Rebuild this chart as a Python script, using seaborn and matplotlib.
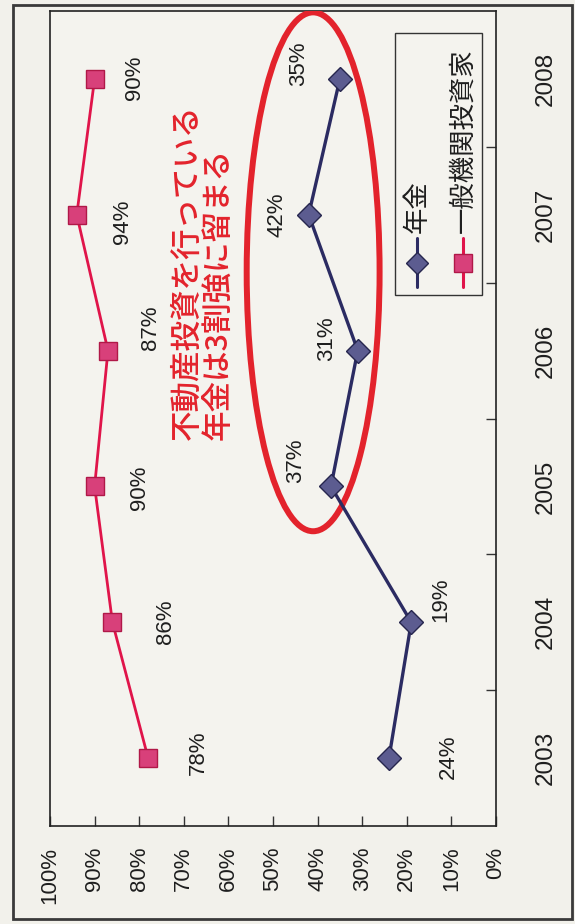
import matplotlib
matplotlib.use("Agg")
import matplotlib.pyplot as plt
import seaborn as sns
import pandas as pd
from matplotlib.patches import Ellipse, Rectangle
from matplotlib.lines import Line2D

# ---- data ----
years = ["2003", "2004", "2005", "2006", "2007", "2008"]
pension = [24, 19, 37, 31, 42, 35]            # 年金
institutional = [78, 86, 90, 87, 94, 90]      # 一般機関投資家
series_names = ["年金", "一般機関投資家"]
pct_ticks = [0, 10, 20, 30, 40, 50, 60, 70, 80, 90, 100]
pct_labels = [f"{v}%" for v in pct_ticks]
note_text = "不動産投資を行っている\n年金は3割強に留まる"

# ---- style ----
sns.set_theme(style="white")
plt.rcParams["font.family"] = ["Liberation Sans", "DejaVu Sans"]
CJK = ["Noto Sans CJK JP", "DejaVu Sans"]

BG = "#f2f1eb"
NAVY = "#2b2b62"
NAVY_FILL = "#5c5c90"
CRIMSON = "#e0144a"
PINK_FILL = "#d8407a"
RED = "#e3232c"
INK = "#1e1e1e"

pos = list(range(len(years)))
df = pd.DataFrame({
    "pos": pos * 2,
    "value": pension + institutional,
    "series": [series_names[0]] * len(years) + [series_names[1]] * len(years),
})

fig = plt.figure(figsize=(5.75, 9.24), dpi=100)
fig.set_facecolor(BG)
ax = fig.add_axes([50 / 575, 98 / 924, 446 / 575, 815 / 924])
ax.set_facecolor("#f4f3ee")

# pension series: dark navy with diamonds
sns.lineplot(data=df[df["series"] == series_names[0]], x="value", y="pos",
             orient="y", ax=ax, color=NAVY, lw=2.4, marker="D", markersize=12,
             markerfacecolor=NAVY_FILL, markeredgecolor="#26264e",
             markeredgewidth=1.0, zorder=4, legend=False)
# institutional series: crimson with squares
sns.lineplot(data=df[df["series"] == series_names[1]], x="value", y="pos",
             orient="y", ax=ax, color=CRIMSON, lw=2.0, marker="s", markersize=13.5,
             markerfacecolor=PINK_FILL, markeredgecolor="#b01848",
             markeredgewidth=1.0, zorder=4, legend=False)

# axes: percent runs right-to-left along the bottom, years up the right side
ax.set_xlim(100, 0)
ax.set_ylim(-0.5, len(years) - 0.5)
ax.set_xlabel("")
ax.set_ylabel("")
ax.set_xticks(pct_ticks)
ax.set_xticklabels(pct_labels, rotation=90)
ax.tick_params(axis="x", direction="in", length=7, width=1, pad=15,
               labelsize=16, labelcolor=INK, bottom=True, color="#333333")

ax.yaxis.tick_right()
ax.set_yticks(pos)
ax.set_yticklabels(years, rotation=90, va="center")
ax.set_yticks([p + 0.5 for p in pos[:-1]], minor=True)
ax.tick_params(axis="y", which="major", length=0, pad=28, labelsize=17.5,
               labelcolor=INK)
ax.tick_params(axis="y", which="minor", direction="in", length=7, width=1,
               right=True, left=False, color="#333333")
for s in ax.spines.values():
    s.set_color("#222222")
    s.set_linewidth(1.2)

# value labels next to each marker (offsets in pixels: right, down)
inst_offsets = [(50, -5), (53, 0), (45, 1), (43, -23), (46, 7), (40, -1)]
pens_offsets = [(59, -1), (29, -22), (-35, -26), (-31, -12), (-32, 0), (-41, -15)]
for vals, offs in ((institutional, inst_offsets), (pension, pens_offsets)):
    for p, v, (dx, dy) in zip(pos, vals, offs):
        ax.annotate(f"{v}%", xy=(v, p), xytext=(dx * 0.72, -dy * 0.72),
                    textcoords="offset points", rotation=90, ha="center",
                    va="center", fontsize=16, color=INK, zorder=5)

# highlight ring around the recent pension values
ax.add_patch(Ellipse((41.0, 3.58), width=29.8, height=3.82, fill=False,
                     ec=RED, lw=4.3, zorder=3))
ax.text(65.7, 2.34, note_text, rotation=90, ha="center", va="bottom",
        multialignment="left", color=RED, fontsize=22, family=CJK,
        weight="medium", linespacing=1.05, zorder=5)

# legend box drawn in axes fraction
ax.add_patch(Rectangle((0.774, 0.652), 0.195, 0.321, transform=ax.transAxes,
                       facecolor="#f4f3ee", edgecolor="#333333", lw=1.0,
                       zorder=5, clip_on=False))
legend_items = [
    (0.823, NAVY, "D", 11, NAVY_FILL, "#26264e"),
    (0.926, CRIMSON, "s", 13, PINK_FILL, "#b01848"),
]
for name, (lx, lc, mk, ms, mfc, mec) in zip(series_names, legend_items):
    ax.add_line(Line2D([lx, lx], [0.661, 0.721], transform=ax.transAxes,
                       color=lc, lw=2.2, zorder=6, clip_on=False))
    ax.add_line(Line2D([lx], [0.691], transform=ax.transAxes, marker=mk,
                       markersize=ms, markerfacecolor=mfc, markeredgecolor=mec,
                       color=lc, zorder=7, clip_on=False))
    ax.text(lx, 0.727, name, transform=ax.transAxes, rotation=90, ha="center",
            va="bottom", fontsize=19, family=CJK, color=INK, zorder=7)

# outer frame
fig.patches.append(Rectangle((13 / 575, 5 / 924), 559 / 575, 914 / 924,
                             transform=fig.transFigure, fill=False,
                             edgecolor="#3a3a3a", lw=2.0))

fig.savefig("out.png", dpi=100, facecolor=BG)
